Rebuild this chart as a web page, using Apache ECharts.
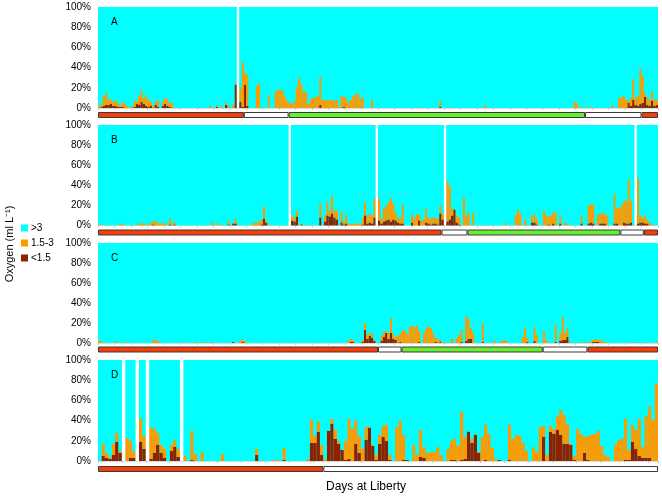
<!DOCTYPE html>
<html><head><meta charset="utf-8">
<script src="https://cdn.jsdelivr.net/npm/echarts@6/dist/echarts.min.js"></script>
<style>html,body{margin:0;padding:0;background:#fff}#c{width:662px;height:496px}</style>
</head><body><div id="c"></div><script>
// ---- data ----
const seriesNames = ['>3', '1.5-3', '<1.5'];
const panelLabels = ['A', 'B', 'C', 'D'];
const yTickValues = [0, 20, 40, 60, 80, 100];
const nDays = [238, 238, 238, 164];

// records: [day index, % of day at 1.5-3, % of day at <1.5]; remaining % is >3
const recA = [[0,2,0],[1,4,1],[2,10,2],[3,12,3],[4,6,3],[5,4,4],[6,4,2],[7,6,2],[8,4,1],[9,2,1],[10,5,1],[11,4,0],[12,2,0],[14,2,0],[15,7,1],[16,2,4],[17,9,3],[18,12,6],[19,6,4],[20,11,2],[21,7,1],[22,4,2],[23,2,0],[24,4,3],[25,6,1],[27,4,2],[28,6,4],[29,7,2],[30,4,1],[31,5,0],[43,1,0],[47,2,0],[50,2,1],[52,2,0],[54,3,3],[55,2,0],[57,3,0],[58,2,23],[60,14,6],[61,45,1],[62,12,23],[63,31,2],[67,22,0],[68,24,0],[72,13,0],[75,16,0],[76,19,0],[77,18,0],[78,17,0],[79,11,0],[80,7,0],[81,5,0],[82,4,0],[83,7,0],[84,21,0],[85,30,0],[86,24,0],[87,16,0],[88,16,0],[89,4,0],[90,9,0],[91,10,0],[92,11,0],[93,12,0],[94,28,3],[95,8,0],[96,8,0],[97,8,0],[98,8,0],[99,8,0],[100,7,0],[101,8,0],[102,1,0],[103,12,0],[104,10,1],[105,10,0],[106,5,0],[107,8,0],[108,12,0],[109,14,0],[110,14,0],[111,9,0],[112,11,0],[116,8,0],[136,1,0],[145,6,1],[149,1,0],[164,3,0],[202,6,0],[203,5,0],[205,1,0],[207,1,0],[209,1,0],[211,1,0],[218,3,0],[221,10,0],[222,11,0],[223,12,0],[224,8,0],[225,2,5],[226,8,2],[227,21,8],[228,7,3],[229,10,2],[230,35,4],[231,27,5],[232,3,11],[233,8,3],[234,6,2],[235,10,7],[236,6,2],[237,5,3]];
const recB = [[0,1,0],[1,1,0],[9,2,0],[10,2,0],[14,1,0],[17,2,0],[18,3,0],[19,2,0],[21,2,0],[22,3,0],[23,3,1],[24,5,0],[25,3,0],[26,2,0],[27,3,0],[28,2,0],[30,6,1],[31,3,0],[32,2,1],[48,3,0],[50,3,0],[52,1,0],[55,4,1],[57,1,2],[58,5,2],[65,2,0],[66,3,0],[67,3,0],[68,4,0],[69,5,1],[70,12,7],[71,2,3],[72,1,0],[82,5,5],[83,4,4],[84,6,9],[86,1,1],[90,1,0],[94,14,8],[96,6,4],[97,14,10],[98,6,9],[99,18,12],[100,7,8],[101,9,6],[103,11,3],[104,3,1],[105,9,2],[106,2,0],[107,2,0],[108,2,0],[109,2,0],[110,2,0],[111,2,0],[112,7,1],[113,13,10],[114,8,2],[115,9,3],[116,8,2],[117,19,8],[119,22,5],[120,5,2],[121,13,4],[122,15,5],[123,18,6],[124,23,4],[125,16,6],[126,9,5],[127,5,3],[128,6,2],[129,19,2],[133,8,3],[134,8,0],[135,11,0],[136,6,5],[137,5,0],[138,7,0],[139,14,3],[140,6,2],[141,6,1],[142,6,2],[143,6,2],[144,6,1],[145,8,12],[146,6,6],[148,40,4],[149,34,6],[150,7,10],[151,0,16],[152,7,3],[153,7,1],[155,28,0],[156,10,0],[157,13,0],[159,13,0],[164,1,0],[173,3,0],[177,11,0],[178,16,0],[179,12,0],[181,6,0],[184,7,3],[185,8,3],[186,6,1],[189,15,0],[190,10,0],[191,8,1],[192,10,0],[193,11,2],[194,13,0],[196,8,2],[198,3,0],[199,2,0],[205,8,2],[208,18,2],[209,18,3],[210,19,2],[212,11,0],[213,10,2],[214,11,2],[215,9,2],[216,10,0],[219,30,2],[220,15,2],[221,18,0],[222,20,0],[223,21,3],[224,23,2],[225,44,2],[226,22,3],[229,45,2],[230,7,3],[231,5,3],[232,8,2],[233,4,2],[234,3,0],[235,2,0]];
const recC = [[0,2,0],[1,2,0],[7,2,0],[12,1,0],[23,3,0],[24,3,0],[25,2,0],[36,1,0],[41,1,0],[45,1,0],[48,1,0],[57,0,1],[60,3,0],[61,2,1],[62,2,0],[106,3,0],[107,3,1],[108,2,1],[112,2,1],[113,7,13],[114,4,4],[115,3,7],[116,4,5],[117,1,2],[120,5,2],[121,5,6],[122,2,10],[123,6,4],[124,15,10],[125,5,4],[126,3,3],[127,7,0],[128,9,1],[129,13,0],[130,12,0],[131,9,0],[132,16,0],[133,17,0],[134,16,0],[135,17,0],[136,11,1],[138,10,0],[139,15,0],[140,17,0],[141,15,0],[142,10,0],[143,4,1],[144,4,0],[145,2,1],[147,1,0],[150,4,0],[152,5,0],[153,8,0],[154,12,1],[156,25,2],[157,20,4],[158,11,4],[159,10,0],[163,19,1],[168,3,0],[171,2,0],[172,3,0],[173,2,0],[180,6,0],[181,15,0],[182,4,1],[185,14,2],[186,8,0],[189,12,0],[190,3,0],[194,17,1],[196,8,2],[197,23,3],[198,7,3],[199,9,6],[200,2,0],[205,1,0],[207,1,0],[209,2,0],[210,2,1],[211,3,1],[212,2,1],[213,3,0],[214,2,0],[215,1,0],[227,1,0],[232,1,0],[237,1,0]];
const recD = [[1,12,5],[2,5,3],[3,2,2],[4,11,6],[5,9,19],[6,2,8],[8,23,0],[9,17,3],[10,7,3],[12,23,19],[13,13,12],[15,31,2],[16,24,8],[17,12,16],[18,8,8],[19,9,3],[21,6,10],[22,7,14],[23,8,4],[25,5,0],[27,29,1],[28,7,0],[30,9,0],[36,7,0],[46,6,6],[51,1,0],[52,1,0],[54,12,1],[61,2,0],[62,23,18],[63,7,18],[64,10,29],[65,10,6],[66,2,0],[67,0,30],[68,5,37],[69,9,22],[70,3,17],[71,0,11],[72,19,1],[73,40,2],[74,32,0],[75,23,17],[76,17,8],[77,12,0],[78,13,21],[79,1,33],[80,1,15],[81,5,1],[82,9,17],[83,11,24],[84,16,20],[85,5,1],[87,34,0],[88,40,0],[89,25,1],[90,0,1],[92,16,0],[93,6,0],[94,27,4],[95,11,3],[96,8,0],[97,9,0],[98,9,0],[99,14,0],[100,6,0],[102,12,0],[103,19,1],[104,21,1],[105,15,0],[106,48,1],[107,22,2],[108,1,29],[109,4,18],[110,1,26],[111,1,8],[112,24,0],[113,35,1],[114,27,0],[115,13,0],[116,2,0],[117,0,1],[120,35,1],[121,22,0],[122,26,0],[123,25,0],[124,18,0],[125,10,0],[127,14,0],[128,9,0],[129,34,0],[130,11,24],[131,6,0],[132,6,29],[133,5,27],[134,13,31],[135,25,26],[136,29,17],[137,20,17],[138,1,16],[139,4,1],[140,32,0],[141,27,0],[142,16,8],[143,24,1],[144,26,0],[145,27,0],[146,30,0],[147,15,0],[148,6,0],[149,4,0],[151,16,0],[152,21,0],[153,22,0],[154,41,1],[155,10,1],[156,17,19],[157,19,12],[158,37,5],[159,11,3],[160,42,3],[161,51,3],[162,41,0],[163,77,0]];

// days with no record (drawn as white gaps)
const missingA = [59];
const missingB = [81, 118, 147, 228];
const missingC = [];
const missingD = [7, 11, 14, 24];

// behaviour strips below each panel: segment lengths in days and kind
const stripA = [62, 19, 126, 24, 7];
const stripB = [146, 11, 65, 10, 6];
const stripC = [119, 10, 60, 19, 30];
const stripD = [66, 98];
const stripKindsABC = ['r', 'w', 'g', 'w', 'r'];
const stripKindsD = ['r', 'w'];

// ---- styling / layout ----
const COLORS = {'>3': '#00FFFF', '1.5-3': '#FF9900', '<1.5': '#8E2200'};
const STRIP_COLORS = {r: '#F53D0A', w: '#FFFFFF', g: '#66EE33'};
const FONT = 'Liberation Sans, Arial, sans-serif';
const panelGrids = [
  {top: 7, height: 101}, {top: 125, height: 100.5}, {top: 243, height: 100}, {top: 360, height: 101}
];
const stripGrids = [
  {top: 112, height: 6}, {top: 229.5, height: 6}, {top: 346.5, height: 6}, {top: 466, height: 6}
];
const GL = 98, GR = 4;

const records = [recA, recB, recC, recD];
const missing = [missingA, missingB, missingC, missingD];
const strips = [stripA, stripB, stripC, stripD];
const stripKinds = [stripKindsABC, stripKindsABC, stripKindsABC, stripKindsD];

function buildPanel(n, rec, miss) {
  const mid = new Array(n).fill(0), low = new Array(n).fill(0), hi = new Array(n).fill(0), gap = new Array(n).fill(0);
  rec.forEach(([d, m, l]) => { mid[d] = m; low[d] = l; });
  for (let i = 0; i < n; i++) {
    if (miss.includes(i)) { mid[i] = 0; low[i] = 0; hi[i] = 0; gap[i] = 100; }
    else hi[i] = 100 - mid[i] - low[i];
  }
  const cats = [];
  for (let i = 0; i < n; i++) cats.push(String(i + 1));
  return {cats, mid, low, hi, gap};
}

const grid = new Array(8), xAxis = new Array(8), yAxis = new Array(8), series = [], graphic = [];
for (let p = 0; p < 4; p++) {
  const d = buildPanel(nDays[p], records[p], missing[p]);
  grid[p] = {left: GL, right: GR, top: panelGrids[p].top, height: panelGrids[p].height,
    show: true, backgroundColor: COLORS['>3'], borderWidth: 0};
  xAxis[p] = {type: 'category', gridIndex: p, data: d.cats, boundaryGap: true,
    axisLabel: {show: false},
    axisTick: {show: true, interval: 6, length: 2, lineStyle: {color: '#c8c8c8'}},
    axisLine: {show: true, lineStyle: {color: '#dcdcdc'}}};
  yAxis[p] = {type: 'value', gridIndex: p, min: yTickValues[0], max: yTickValues[yTickValues.length - 1],
    interval: yTickValues[1] - yTickValues[0],
    axisLabel: {formatter: '{value}%', fontSize: 10, color: '#000', fontFamily: FONT, margin: 7},
    axisLine: {show: false}, axisTick: {show: false}, splitLine: {show: false}};
  const base = {type: 'bar', xAxisIndex: p, yAxisIndex: p, stack: 'p' + p, barCategoryGap: '0%',
    animation: false, emphasis: {disabled: true}, silent: true};
  series.push(Object.assign({}, base, {name: '<1.5', data: d.low, itemStyle: {color: COLORS['<1.5']}}));
  series.push(Object.assign({}, base, {name: '1.5-3', data: d.mid, itemStyle: {color: COLORS['1.5-3']}}));
  series.push(Object.assign({}, base, {name: '>3', data: d.hi, itemStyle: {color: COLORS['>3']}}));
  series.push(Object.assign({}, base, {name: 'no data', data: d.gap, itemStyle: {color: '#FFFFFF'}}));

  // strip
  const gi = 4 + p;
  grid[gi] = {left: GL, right: GR, top: stripGrids[p].top, height: stripGrids[p].height, show: false};
  xAxis[gi] = {type: 'value', gridIndex: gi, min: 0, max: nDays[p], show: false};
  yAxis[gi] = {type: 'category', gridIndex: gi, data: ['s'], show: false};
  strips[p].forEach((len, j) => {
    series.push({type: 'bar', name: 'strip', xAxisIndex: gi, yAxisIndex: gi, stack: 's' + p,
      barWidth: '100%', data: [len], animation: false, silent: true,
      itemStyle: {color: STRIP_COLORS[stripKinds[p][j]], borderColor: '#3a3a3a', borderWidth: 1}});
  });

  graphic.push({type: 'text', x: 111, y: panelGrids[p].top + 15, z: 100, zlevel: 0,
    style: {text: panelLabels[p], fontSize: 10, fill: '#000', fontFamily: FONT, textVerticalAlign: 'middle'}});
}

graphic.push({type: 'text', x: 366, y: 487, z: 100,
  style: {text: 'Days at Liberty', fontSize: 12, fill: '#000', fontFamily: FONT, textAlign: 'center', textVerticalAlign: 'middle'}});
graphic.push({type: 'text', x: 10, y: 244, rotation: Math.PI / 2, z: 100,
  style: {text: 'Oxygen (ml L\u207B\u00B9)', fontSize: 11, fill: '#000', fontFamily: FONT, textAlign: 'center', textVerticalAlign: 'middle'}});

const chart = echarts.init(document.getElementById('c'), null, {renderer: 'canvas'});
chart.setOption({
  animation: false,
  backgroundColor: '#fff',
  legend: {data: seriesNames, orient: 'vertical', left: 16, top: 218, icon: 'rect',
    itemWidth: 7, itemHeight: 7, itemGap: 5, selectedMode: false,
    textStyle: {fontSize: 10, color: '#000', fontFamily: FONT, padding: [0, 0, 0, -2]}},
  grid, xAxis, yAxis, series, graphic
});
</script></body></html>
